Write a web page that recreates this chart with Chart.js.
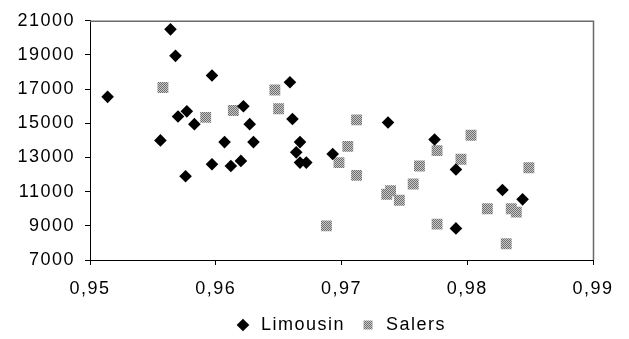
<!DOCTYPE html>
<html>
<head>
<meta charset="utf-8">
<script src="https://cdn.jsdelivr.net/npm/chart.js@4.4.1/dist/chart.umd.min.js"></script>
<style>
html,body{margin:0;padding:0;background:#fff;}
#wrap{width:629px;height:339px;position:relative;}
</style>
</head>
<body>
<div id="wrap"><canvas id="c"></canvas></div>
<script>
// Data
const seriesNames = ["Limousin", "Salers"];
const limousinX = [0.9514, 0.9564, 0.9568, 0.9570, 0.9577, 0.9583, 0.9597, 0.9622, 0.9627,
  0.9556, 0.9607, 0.9630, 0.9576, 0.9597, 0.9612, 0.9620,
  0.9659, 0.9661, 0.9667, 0.9664, 0.9667, 0.9672, 0.9693, 0.9737, 0.9774,
  0.9791, 0.9828, 0.9844, 0.9791];
const limousinY = [16550, 20500, 18950, 15400, 15700, 14950, 17800, 16000, 14950,
  14000, 13900, 13900, 11900, 12600, 12500, 12800,
  17400, 15250, 13900, 13300, 12700, 12700, 13200, 15050, 14050,
  12300, 11100, 10550, 8850];
const salersX = [0.9558, 0.9592, 0.9614, 0.9647, 0.9650, 0.9712, 0.9705, 0.9698, 0.9712,
  0.9688, 0.9736, 0.9739, 0.9746, 0.9757, 0.9762, 0.9776, 0.9776, 0.9803, 0.9795,
  0.9849, 0.9816, 0.9835, 0.9839, 0.9831];
const salersY = [17100, 15350, 15750, 16950, 15850, 15200, 13650, 12700, 11950,
  9000, 10850, 11050, 10500, 11450, 12500, 13400, 9100, 14300, 12900,
  12400, 10000, 10000, 9800, 7950];
const xTicks = [0.95, 0.96, 0.97, 0.98, 0.99];
const yTicks = [7000, 9000, 11000, 13000, 15000, 17000, 19000, 21000];

const toPoints = (xs, ys) => xs.map((x, i) => ({x: x, y: ys[i]}));

const canvas = document.getElementById('c');
const ctx = canvas.getContext('2d');

// dithered grey pattern for the Salers squares
const pc = document.createElement('canvas');
pc.width = 2; pc.height = 2;
const pctx = pc.getContext('2d');
pctx.fillStyle = '#c8c8c8'; pctx.fillRect(0, 0, 2, 2);
pctx.fillStyle = '#6e6e6e'; pctx.fillRect(0, 0, 1, 1); pctx.fillRect(1, 1, 1, 1);
const grey = ctx.createPattern(pc, 'repeat');

const LS = '1.5px';
const spacing = {
  id: 'spacing',
  beforeUpdate(c) { c.ctx.letterSpacing = LS; },
  beforeLayout(c) { c.ctx.letterSpacing = LS; },
  afterInit(c) {
    const lg = c.legend;
    if (lg) {
      const f = lg.fit.bind(lg);
      lg.fit = function () { f(); this.height = 37; };
    }
  },
  afterLayout(c) {
    if (c.legend) { c.legend.left = 87; c.legend.right = 593; }
  },
  beforeDraw(c) { c.ctx.letterSpacing = LS; },
  afterDraw(c) {
    const a = c.chartArea, g = c.ctx;
    g.save();
    g.strokeStyle = '#6a6a6a';
    g.lineWidth = 1.5;
    g.beginPath();
    g.moveTo(a.left, a.top + 0.5);
    g.lineTo(a.right + 0.5, a.top + 0.5);
    g.lineTo(a.right + 0.5, a.bottom);
    g.stroke();
    g.restore();
  }
};

const font = {family: '"Liberation Sans", Arial, sans-serif', size: 18};

new Chart(ctx, {
  type: 'scatter',
  data: {
    datasets: [
      {
        label: seriesNames[0],
        data: toPoints(limousinX, limousinY),
        pointStyle: 'rectRot',
        pointRadius: 6.3,
        backgroundColor: '#000',
        borderColor: '#000',
        borderWidth: 0
      },
      {
        label: seriesNames[1],
        data: toPoints(salersX, salersY),
        pointStyle: 'rect',
        pointRadius: 7.7,
        backgroundColor: grey,
        borderColor: grey,
        borderWidth: 0
      }
    ]
  },
  options: {
    responsive: true,
    maintainAspectRatio: false,
    animation: false,
    events: [],
    layout: {padding: {top: 16, right: 36, left: 0, bottom: 0}},
    plugins: {
      tooltip: {enabled: false},
      legend: {
        position: 'bottom',
        labels: {
          usePointStyle: true,
          boxWidth: 18,
          boxHeight: 9,
          padding: 14,
          color: '#000',
          font: font
        }
      }
    },
    scales: {
      x: {
        type: 'linear',
        min: xTicks[0],
        max: xTicks[xTicks.length - 1],
        afterFit: s => { s.height = 42; },
        afterBuildTicks: s => { s.ticks = xTicks.map(v => ({value: v})); },
        ticks: {
          color: '#000',
          font: font,
          padding: 13,
          maxRotation: 0,
          callback: v => v.toFixed(2).replace('.', ',')
        },
        grid: {drawOnChartArea: false, drawTicks: true, tickLength: 5, color: '#000'},
        border: {color: '#000', width: 1}
      },
      y: {
        type: 'linear',
        min: yTicks[0],
        max: yTicks[yTicks.length - 1],
        afterFit: s => { s.width = 90; },
        afterBuildTicks: s => { s.ticks = yTicks.map(v => ({value: v})); },
        ticks: {
          color: '#000',
          font: font,
          padding: 10,
          callback: v => String(v)
        },
        grid: {drawOnChartArea: false, drawTicks: true, tickLength: 5, color: '#000'},
        border: {color: '#000', width: 1}
      }
    }
  },
  plugins: [spacing]
});
</script>
</body>
</html>
